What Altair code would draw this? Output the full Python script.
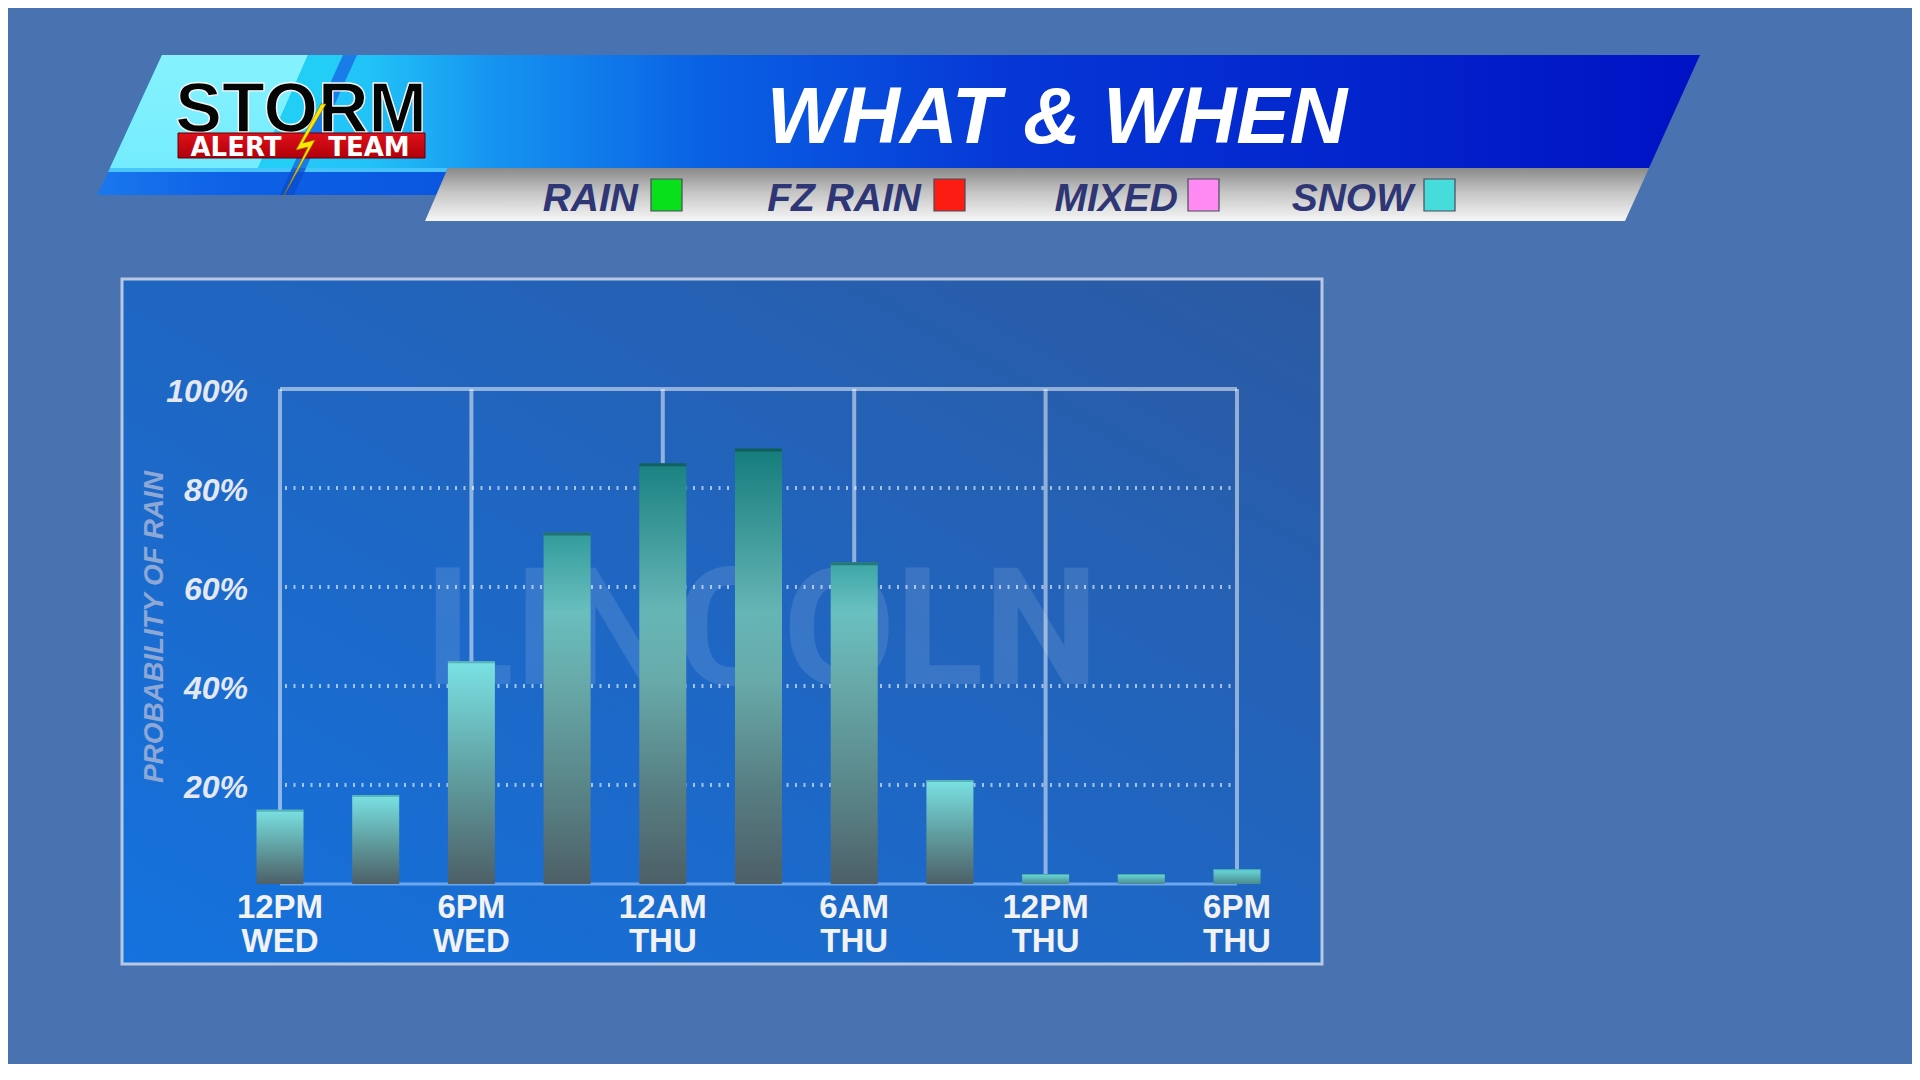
import altair as alt
import pandas as pd

# ---------------- data ----------------
hours = [0, 3, 6, 9, 12, 15, 18, 21, 24, 27, 30]
pop = [15, 18, 45, 71, 85, 88, 65, 21, 2, 2, 3]
tick_hours = [0, 6, 12, 18, 24, 30]
tick_time = ["12PM", "6PM", "12AM", "6AM", "12PM", "6PM"]
tick_day = ["WED", "WED", "THU", "THU", "THU", "THU"]
grid_values = [20, 40, 60, 80]
y_tick_values = [20, 40, 60, 80, 100]
y_tick_labels = ["20%", "40%", "60%", "80%", "100%"]
legend_names = ["RAIN", "FZ RAIN", "MIXED", "SNOW"]
legend_colors = ["#08e01c", "#fc1c12", "#ff8af4", "#46dcdc"]
title_text = "WHAT & WHEN"
watermark_text = "LINCOLN"
y_title_text = "PROBABILITY OF RAIN"
logo_top = "STORM"
logo_left = "ALERT"
logo_right = "TEAM"

# ---------------- layout (page pixels; chart origin is at page 8,8) ----------------
OFF = 8
W, H = 1904, 1056
BG = "#4873b0"
X_RANGE = [280 - OFF, 1237 - OFF]
Y_RANGE = [884 - OFF, 389 - OFF]
legend_text_right = [638, 921, 1178, 1413]
legend_square_left = [651, 934, 1188, 1424]

xs = alt.Scale(domain=[0, 30], range=X_RANGE, nice=False, zero=False, padding=0)
ys = alt.Scale(domain=[0, 100], range=Y_RANGE, nice=False, padding=0)

one = pd.DataFrame({"a": [0]})


def P(x, y):
    return alt.value(x - OFF), alt.value(y - OFF)


def poly(points, fill, opacity=1.0, stroke="transparent", sw=0):
    d = "M" + " L".join(f"{x - OFF},{y - OFF}" for x, y in points) + " Z"
    return alt.Chart(one).mark_point(
        shape=d, size=4, filled=True, fill=fill, opacity=opacity,
        stroke=stroke, strokeWidth=sw
    ).encode(x=alt.value(0), y=alt.value(0))


def rect(x0, y0, x1, y1, fill, stroke="transparent", sw=0, opacity=1.0):
    return alt.Chart(one).mark_rect(
        fill=fill, stroke=stroke, strokeWidth=sw, opacity=opacity
    ).encode(
        x=alt.value(x0 - OFF), x2=alt.value(x1 - OFF),
        y=alt.value(y0 - OFF), y2=alt.value(y1 - OFF),
    )


def text(s, x, y, size, color="white", font="Liberation Sans", weight="bold",
         style="normal", align="center", baseline="alphabetic", angle=0,
         opacity=1.0, stroke=None, sw=0):
    kw = dict(text=s, font=font, fontSize=size, fontWeight=weight, fontStyle=style,
              align=align, baseline=baseline, fill=color, opacity=opacity)
    if angle:
        kw["angle"] = angle
    if stroke:
        kw["stroke"] = stroke
        kw["strokeWidth"] = sw
        kw["strokeJoin"] = "round"
    px, py = P(x, y)
    return alt.Chart(one).mark_text(**kw).encode(x=px, y=py)


def lg(stops, x1=0, y1=0, x2=1, y2=0):
    return {"gradient": "linear", "x1": x1, "y1": y1, "x2": x2, "y2": y2,
            "stops": [{"offset": o, "color": c} for o, c in stops]}


def mix(c1, c2, t):
    a = [int(c1[i:i + 2], 16) for i in (1, 3, 5)]
    b = [int(c2[i:i + 2], 16) for i in (1, 3, 5)]
    return "#" + "".join(f"{round(p + (q - p) * t):02x}" for p, q in zip(a, b))


layers = []

# ---------------- banner ----------------
banner_grad = lg([(0.0, "#30d0fa"), (0.16, "#22c4f8"), (0.24, "#1694f0"),
                  (0.37, "#0a62e4"), (0.56, "#0638d6"), (1.0, "#0012c4")])
layers.append(poly([(162, 55), (1700, 55), (1649, 168), (110, 168)], banner_grad))
layers.append(poly([(162, 55), (308, 55), (258, 168), (110, 168)],
                   lg([(0, "#86f2fe"), (1, "#74ecfd")], 0, 0, 0, 1)))
layers.append(poly([(308, 55), (343, 55), (292, 168), (258, 168)], "#22cdf6"))
layers.append(poly([(343, 55), (357, 55), (306, 168), (292, 168)], "#1a7ce8"))
# lower band under logo
layers.append(poly([(110, 168), (448, 168), (436, 195), (97, 195)],
                   lg([(0, "#1a78ee"), (0.35, "#0e62e6"), (1, "#0a56e0")])))
layers.append(poly([(110, 168), (448, 168), (446, 172), (108, 172)], "#52d6ff", 0.85))
layers.append(poly([(292, 168), (306, 168), (294, 195), (280, 195)], "#0a4cd0", 0.8))
# grey legend strip
layers.append(poly([(448, 168), (1649, 168), (1625, 221), (425, 221)],
                   lg([(0, "#8a8a8a"), (0.45, "#c4c4c4"), (1, "#f6f6f6")], 0, 0, 0, 1)))

# title
layers.append(text(title_text, 1057, 143, 80, color="white", style="italic"))

# logo
layers.append(text(logo_top, 301, 132, 70, color="#050505", stroke="#f4f4f4", sw=1.4))
layers.append(rect(178, 133, 425, 158,
                   lg([(0, "#e0101a"), (1, "#b0000a")], 0, 0, 0, 1), "#600008", 1))
layers.append(text(logo_left, 236, 156, 26, color="white", font="DejaVu Sans"))
layers.append(text(logo_right, 369, 156, 26, color="white", font="DejaVu Sans"))
layers.append(poly([(321, 104), (296, 150), (308, 147), (283, 197), (315, 140),
                    (303, 143), (326, 104)], "#ffe800", stroke="#8a7000", sw=0.6))

# legend
for name, col, tr, sl in zip(legend_names, legend_colors, legend_text_right, legend_square_left):
    layers.append(text(name, tr, 211, 39, color="#2e3676", style="italic", align="right"))
    layers.append(rect(sl, 179, sl + 31, 211, col, "#4a4a5a", 1.2))

# ---------------- chart panel ----------------
panel_grad = lg([(0, "#1472de"), (0.5, "#1f66c2"), (1, "#2c5aa2")], 0, 1, 1, 0)
layers.append(rect(122, 279, 1322, 964, panel_grad, "#b8c8e2", 3))

# watermark
layers.append(text(watermark_text, 762, 684, 163, color="white", font="Roboto",
                   weight="bold", opacity=0.11))

# dotted gridlines
grid_df = pd.DataFrame({"v": grid_values})
layers.append(alt.Chart(grid_df).mark_rule(
    color="white", opacity=0.6, strokeWidth=4, strokeDash=[2, 6.5]
).encode(y=alt.Y("v:Q", scale=ys, axis=None),
         x=alt.value(285 - OFF), x2=alt.value(1233 - OFF)))

# frame: top line and vertical lines
top_df = pd.DataFrame({"a": [tick_hours[0]], "b": [tick_hours[-1]], "v": [100]})
layers.append(alt.Chart(top_df).mark_rule(color="white", opacity=0.5, strokeWidth=4).encode(
    x=alt.X("a:Q", scale=xs, axis=None), x2="b:Q",
    y=alt.Y("v:Q", scale=ys, axis=None)))
vert_df = pd.DataFrame({"h": tick_hours, "lo": [0] * len(tick_hours), "hi": [100] * len(tick_hours)})
layers.append(alt.Chart(vert_df).mark_rule(color="white", opacity=0.5, strokeWidth=4).encode(
    x=alt.X("h:Q", scale=xs, axis=None),
    y=alt.Y("hi:Q", scale=ys, axis=None), y2="lo:Q"))
# baseline
layers.append(alt.Chart(top_df.assign(z=0)).mark_rule(color="#6ca6ee", strokeWidth=3).encode(
    x=alt.X("a:Q", scale=xs, axis=None), x2="b:Q",
    y=alt.Y("z:Q", scale=ys, axis=None)))

# ---------------- bars ----------------
bars_df = pd.DataFrame({"i": list(range(len(hours))), "h": hours, "p": pop,
                        "z": [0] * len(hours)})
BOTTOM = "#4d5f67"
LIGHT = "#7ae2e4"
TEAL = "#127878"
for i, v in enumerate(pop):
    thick = 3
    if v < 10:
        stops = [(0, "#4a8a8e"), (1, "#6adadc")]
        edge = "#3a9a9c"
        thick = 1
    elif v <= 50:
        stops = [(0, BOTTOM), (0.5, "#61a0a2"), (1, LIGHT)]
        edge = mix(LIGHT, "#1a6060", 0.5)
        thick = 2
    else:
        t = min(1.0, (v - 50) / 40)
        top = mix("#56c2c2", TEAL, t)
        lo = min(0.85, 55 / v)
        stops = [(0, BOTTOM), (0.22, "#577e82"), (lo * 0.75, "#68aaaa"),
                 (lo, mix("#6cc8c8", "#66b4b4", t)), (1, top)]
        edge = mix(top, "#052e2e", 0.55)
    sub = alt.Chart(bars_df).transform_filter(f"datum.i == {i}")
    layers.append(sub.mark_bar(size=47, fill=lg(stops, 0, 1, 0, 0), orient="vertical").encode(
        x=alt.X("h:Q", scale=xs, axis=None),
        y=alt.Y("p:Q", scale=ys, axis=None), y2="z:Q"))
    layers.append(sub.mark_tick(size=47, thickness=thick, color=edge, orient="horizontal",
                                yOffset=thick / 2).encode(
        x=alt.X("h:Q", scale=xs, axis=None),
        y=alt.Y("p:Q", scale=ys, axis=None)))

# ---------------- axis labels ----------------
ylab_df = pd.DataFrame({"v": y_tick_values, "lab": y_tick_labels})
layers.append(alt.Chart(ylab_df).mark_text(
    font="Liberation Sans", fontSize=32, fontWeight="bold", fontStyle="italic",
    align="right", baseline="middle", color="#e4e8f0", dy=3
).encode(y=alt.Y("v:Q", scale=ys, axis=None), x=alt.value(248 - OFF), text="lab:N"))

layers.append(text(y_title_text, 163, 627, 28, color="#8ea8d6", style="italic",
                   angle=270, baseline="alphabetic"))

xl_df = pd.DataFrame({"h": tick_hours, "t": tick_time, "d": tick_day})
layers.append(alt.Chart(xl_df).mark_text(
    font="Liberation Sans", fontSize=33, fontWeight="bold", align="center",
    baseline="alphabetic", color="#f2f2f2"
).encode(x=alt.X("h:Q", scale=xs, axis=None), y=alt.value(918 - OFF), text="t:N"))
layers.append(alt.Chart(xl_df).mark_text(
    font="Liberation Sans", fontSize=33, fontWeight="bold", align="center",
    baseline="alphabetic", color="#f2f2f2"
).encode(x=alt.X("h:Q", scale=xs, axis=None), y=alt.value(952 - OFF), text="d:N"))

chart = alt.layer(*layers).properties(
    width=W, height=H, padding=0, background=BG,
    autosize=alt.AutoSizeParams(type="none"),
).configure_view(strokeWidth=0)

chart.save("out.html", embed_options={"renderer": "svg", "actions": False})
